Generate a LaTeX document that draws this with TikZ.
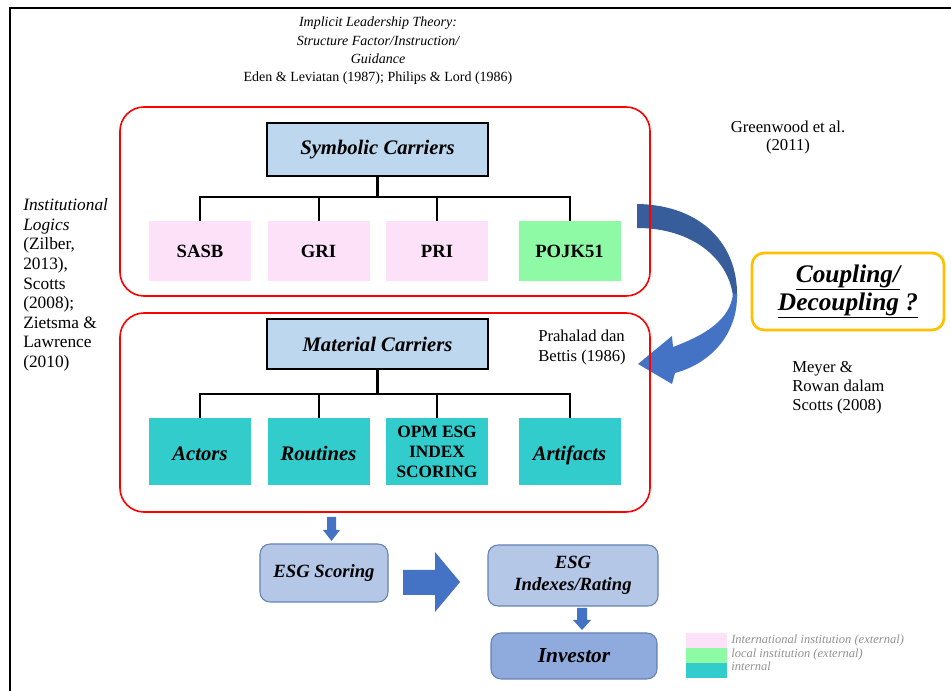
\documentclass[tikz,border=0pt]{standalone}
\usepackage{fontspec}
\setmainfont{Liberation Serif}
\definecolor{pinkc}{RGB}{252,225,248}
\definecolor{greenc}{RGB}{143,250,165}
\definecolor{tealc}{RGB}{51,204,204}
\definecolor{carrierblue}{RGB}{189,215,238}
\definecolor{esgfill}{RGB}{180,199,231}
\definecolor{esgborder}{RGB}{100,130,180}
\definecolor{invfill}{RGB}{143,170,220}
\definecolor{arrowblue}{RGB}{68,114,196}
\definecolor{arrowdark}{RGB}{56,93,155}
\definecolor{orangec}{RGB}{255,192,0}
\begin{document}
\begin{tikzpicture}[x=0.75pt,y=-0.75pt,
  carrier/.style={draw=black,line width=1.5pt,fill=carrierblue,minimum width=165.75pt,inner sep=0pt},
  leaf/.style={minimum width=76.5pt,inner sep=0pt,align=center},
  lineA/.style={text height=13.5pt,text depth=3pt},
  lineB/.style={text height=17pt,text depth=3pt},
  esg/.style={draw=esgborder,line width=0.8pt,rounded corners=7.5pt,align=center,inner sep=0pt},
  redbox/.style={draw=red,line width=1.2pt,rounded corners=18pt,minimum width=397.5pt,inner sep=0pt},
  conn/.style={line width=1.5pt},
  trunk/.style={line width=2.6pt},
  txt/.style={inner sep=0pt}
]
\useasboundingbox (0,0) rectangle (951,691);
\fill[white] (0,0) rectangle (951,691);
% frame
\draw[line width=2pt] (10,691) -- (10,8) -- (951,8);

% curved arrow (drawn below red boxes)
\fill[arrowdark] (637,204) .. controls (702,205) and (738,245) .. (737,296)
  -- (733,296) .. controls (728,258) and (692,228) .. (637,228) -- cycle;
\fill[arrowblue] (737,294) .. controls (738,330) and (715,362) .. (675,373)
  -- (672,384) -- (638,364) -- (672,336) -- (673,347)
  .. controls (705,335) and (730,320) .. (733,294) -- cycle;

% red groups
\node[redbox,minimum height=141.75pt] (rb1) at (385,201.5) {};
\node[redbox,minimum height=149.25pt] (rb2) at (385,412.5) {};

% symbolic carriers
\node[carrier,minimum height=39.75pt,font=\fontsize{15.5pt}{18pt}\selectfont\bfseries\itshape] (sym) at (377.5,149.5) {Symbolic Carriers};
\node[leaf,lineA,fill=pinkc,minimum height=45pt,font=\fontsize{14pt}{16pt}\selectfont\bfseries] (sasb) at (200,251) {SASB};
\node[leaf,lineA,fill=pinkc,minimum height=45pt,font=\fontsize{14pt}{16pt}\selectfont\bfseries] (gri) at (318.5,251) {GRI};
\node[leaf,lineA,fill=pinkc,minimum height=45pt,font=\fontsize{14pt}{16pt}\selectfont\bfseries] (pri) at (437,251) {PRI};
\node[leaf,lineA,fill=greenc,minimum height=45pt,font=\fontsize{14pt}{16pt}\selectfont\bfseries] (pojk) at (569.5,251) {POJK51};
\coordinate (j1) at (377.5,197);
\draw[trunk] (sym.south) -- (j1);
\draw[conn] (j1) -| (sasb.north);
\draw[conn] (j1) -| (gri.north);
\draw[conn] (j1) -| (pri.north);
\draw[conn] (j1) -| (pojk.north);

% material carriers
\node[carrier,minimum height=37.5pt,font=\fontsize{15.5pt}{18pt}\selectfont\bfseries\itshape] (mat) at (377.5,344) {Material Carriers};
\node[leaf,lineB,fill=tealc,minimum height=50.25pt,font=\fontsize{15.5pt}{18pt}\selectfont\bfseries\itshape] (act) at (200,451.5) {Actors};
\node[leaf,lineB,fill=tealc,minimum height=50.25pt,font=\fontsize{15.5pt}{18pt}\selectfont\bfseries\itshape] (rout) at (318.5,451.5) {Routines};
\node[leaf,fill=tealc,minimum height=50.25pt,font=\fontsize{13pt}{15pt}\selectfont\bfseries] (opm) at (437,451.5) {OPM ESG\\INDEX\\SCORING};
\node[leaf,lineB,fill=tealc,minimum height=50.25pt,font=\fontsize{15.5pt}{18pt}\selectfont\bfseries\itshape] (art) at (569.5,451.5) {Artifacts};
\coordinate (j2) at (377.5,394);
\draw[trunk] (mat.south) -- (j2);
\draw[conn] (j2) -| (act.north);
\draw[conn] (j2) -| (rout.north);
\draw[conn] (j2) -| (opm.north);
\draw[conn] (j2) -| (art.north);

% ESG flow
\node[esg,fill=esgfill,minimum width=96pt,minimum height=43.5pt,font=\fontsize{14pt}{16pt}\selectfont\bfseries\itshape] (scor) at (324,573) {ESG Scoring};
\node[esg,fill=esgfill,minimum width=127.5pt,minimum height=45.75pt,font=\fontsize{14pt}{16.5pt}\selectfont\bfseries\itshape] (idx) at (573,575.5) {ESG\\Indexes/Rating};
\node[esg,fill=invfill,minimum width=124.5pt,minimum height=34.5pt,font=\fontsize{16pt}{18pt}\selectfont\bfseries\itshape] (inv) at (574,656) {Investor};
% block arrows
\fill[arrowblue] (327,517) -- (336,517) -- (336,530) -- (340,530) -- (331.5,541) -- (323,530) -- (327,530) -- cycle;
\fill[arrowblue] (403,570) -- (435,570) -- (435,552) -- (460,582) -- (435,612) -- (435,595) -- (403,595) -- cycle;
\fill[arrowblue] (577,608) -- (587,608) -- (587,620) -- (591,620) -- (582,630) -- (573,620) -- (577,620) -- cycle;

% coupling box
\node[draw=orangec,line width=2pt,rounded corners=9pt,minimum width=144pt,minimum height=57.75pt,align=center,inner sep=0pt,font=\fontsize{19pt}{21pt}\selectfont\bfseries\itshape] (coup) at (848,291.5) {\underline{Coupling/}\\\underline{Decoupling ?}};

% texts
\node[txt,align=center,font=\fontsize{10.5pt}{13.75pt}\selectfont] (ilt) at (378,51) {{\itshape Implicit Leadership Theory:}\\{\itshape Structure Factor/Instruction/}\\{\itshape Guidance}\\Eden \& Leviatan (1987); Philips \& Lord (1986)};
\node[txt,align=left,anchor=west,font=\fontsize{13pt}{14.7pt}\selectfont] (inst) at (23,285) {{\itshape Institutional}\\{\itshape Logics}\\(Zilber,\\2013),\\Scotts\\(2008);\\Zietsma \&\\Lawrence\\(2010)};
\node[txt,align=center,font=\fontsize{12.5pt}{13.5pt}\selectfont] (green) at (788,137) {Greenwood et al.\\(2011)};
\node[txt,align=left,anchor=west,font=\fontsize{12.5pt}{14.25pt}\selectfont] (meyer) at (792,388) {Meyer \&\\Rowan dalam\\Scotts (2008)};
\node[txt,align=left,anchor=west,font=\fontsize{12.5pt}{15pt}\selectfont] (prah) at (538,347) {Prahalad dan\\Bettis (1986)};

% legend
\fill[pinkc] (686,633) rectangle (727,648);
\fill[greenc] (686,648) rectangle (727,663);
\fill[tealc] (686,663) rectangle (727,678);
\node[txt,align=left,anchor=west,text=gray!85,font=\fontsize{9.4pt}{10.2pt}\selectfont\itshape] (leg) at (731,653) {International institution (external)\\local institution (external)\\internal};
\end{tikzpicture}
\end{document}
